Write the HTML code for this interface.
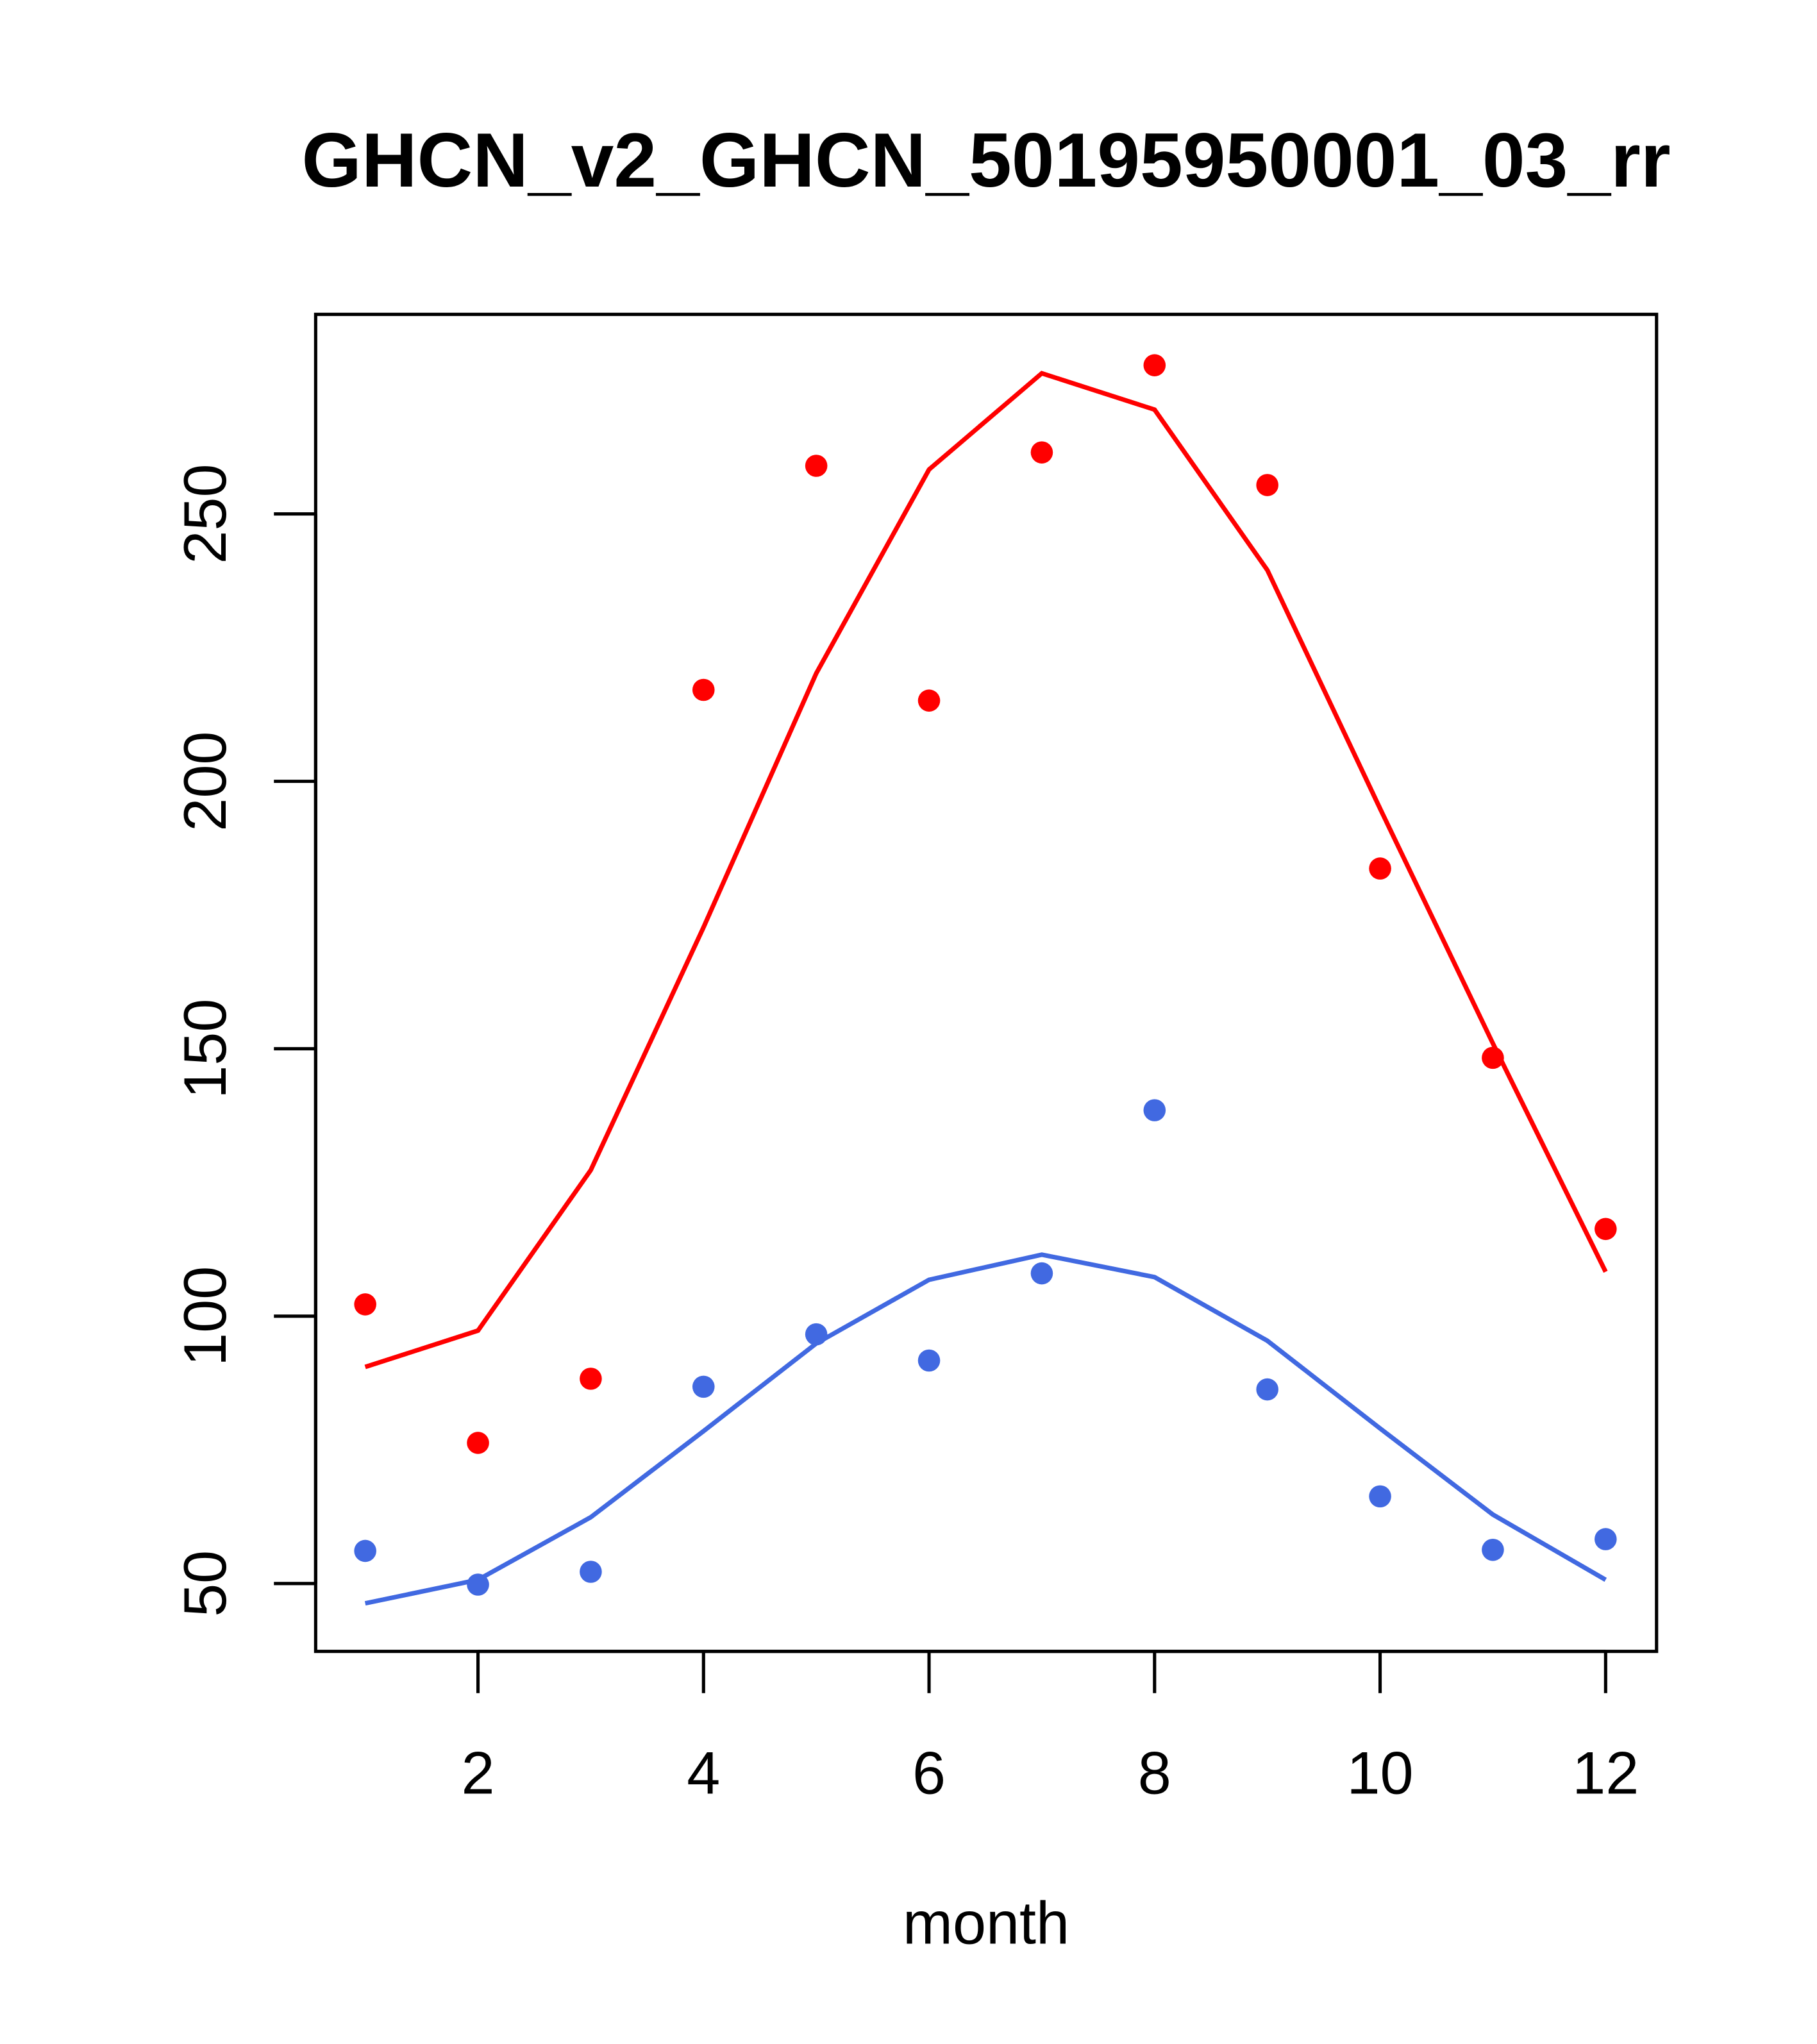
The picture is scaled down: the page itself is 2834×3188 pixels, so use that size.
<!DOCTYPE html>
<html><head><meta charset="utf-8"><style>
html,body{margin:0;padding:0;background:#fff}
svg{display:block}
text{font-family:"Liberation Sans",Arial,sans-serif}
</style></head><body>
<svg id="chart" width="2834" height="3188" viewBox="0 0 1393 1567" preserveAspectRatio="none" xmlns="http://www.w3.org/2000/svg">
<rect width="1393" height="1567" fill="#fff"/>
<text x="756" y="143" font-size="59" font-weight="bold" text-anchor="middle">GHCN_v2_GHCN_50195950001_03_rr</text>
<rect x="242" y="241" width="1028" height="1025" fill="none" stroke="#000" stroke-width="2.5"/>
<text x="756" y="1490" font-size="46" text-anchor="middle">month</text>
<g id="xaxis"></g>
<g id="yaxis"></g>
<g id="series"></g>
</svg>
<script>
const months=[1,2,3,4,5,6,7,8,9,10,11,12];
const xTicks=[2,4,6,8,10,12];
const yTicks=[50,100,150,200,250];
const redPoints=[102.2,76.3,88.3,217.1,259,215.1,261.5,277.8,255.4,183.7,148.3,116.3];
const redLine=[90.5,97.3,127.3,172.7,220.2,258.3,276.3,269.5,239.5,194.9,151,108.3];
const bluePoints=[56.1,49.8,52.2,86.8,96.6,91.7,108,138.5,86.3,66.3,56.3,58.3];
const blueLine=[46.3,50.7,62.4,78.5,94.9,106.8,111.5,107.3,95.4,79,62.9,50.7];

const NS="http://www.w3.org/2000/svg";
const xs=m=>280+(m-1)*86.45;
const ys=v=>1214-(v-50)*4.1;
function mk(tag,attrs,parent){const e=document.createElementNS(NS,tag);for(const k in attrs)e.setAttribute(k,attrs[k]);parent.appendChild(e);return e;}
const xa=document.getElementById('xaxis'),ya=document.getElementById('yaxis'),sg=document.getElementById('series');
mk('line',{x1:xs(2),x2:xs(12),y1:1266,y2:1266,stroke:'#000','stroke-width':2.5},xa);
xTicks.forEach(t=>{
 const l=mk('line',{x1:xs(t),x2:xs(t),y1:1266,y2:1298,stroke:'#000','stroke-width':2.5},xa);
 
 
 const tx=mk('text',{x:xs(t),y:1375,'font-size':46,'text-anchor':'middle'},xa);tx.textContent=t;
 
 
});
mk('line',{x1:242,x2:242,y1:ys(50),y2:ys(250),stroke:'#000','stroke-width':2.5},ya);
yTicks.forEach(t=>{
 const l=mk('line',{x1:210,x2:242,y1:ys(t),y2:ys(t),stroke:'#000','stroke-width':2.5},ya);
 
 
 const tx=mk('text',{x:0,y:0,'font-size':46,'text-anchor':'middle',transform:`translate(173,${ys(t)}) rotate(-90)`},ya);tx.textContent=t;
 
 
});
function line(data,color,name){
 const p=mk('polyline',{points:data.map((v,i)=>xs(months[i])+','+ys(v)).join(' '),fill:'none',stroke:color,'stroke-width':3.5},sg);
 
 
}
function pts(data,color,name){
 data.forEach((v,i)=>{const c=mk('circle',{cx:xs(months[i]),cy:ys(v),r:8.5,fill:color},sg);
 
 });
}
line(redLine,'#ff0000','red-line');
line(blueLine,'#4169e1','blue-line');
pts(redPoints,'#ff0000','red-point');
pts(bluePoints,'#4169e1','blue-point');
</script>
</body></html>
